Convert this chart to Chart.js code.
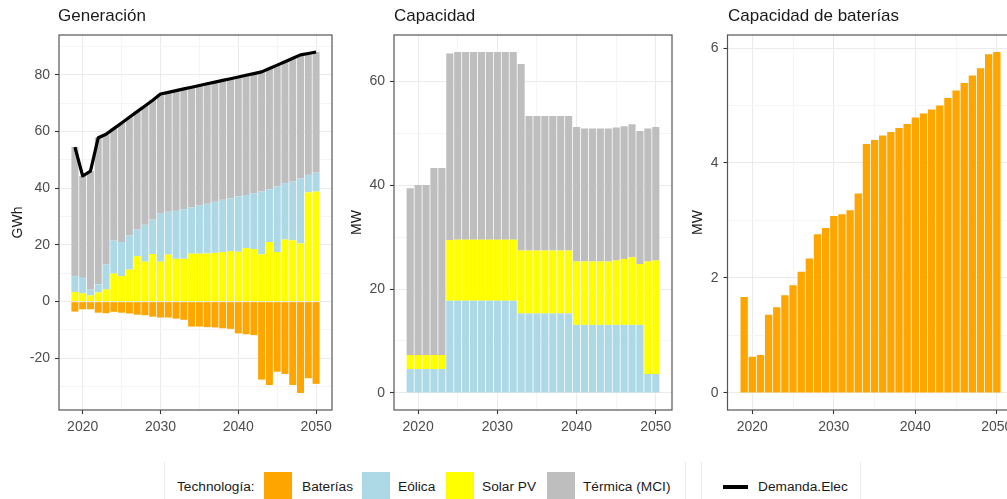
<!DOCTYPE html>
<html>
<head>
<meta charset="utf-8">
<script src="https://cdn.jsdelivr.net/npm/chart.js@4.4.1/dist/chart.umd.min.js"></script>
<style>
html,body{margin:0;padding:0;background:#fff;overflow:hidden;width:1007px;height:499px;}
#wrap{position:relative;width:1007px;height:499px;overflow:hidden;font-family:"Liberation Sans",Arial,sans-serif;color:#1a1a1a;}
.pc{position:absolute;top:0;width:340px;height:450px;}
.ttl{position:absolute;top:7px;font-size:17px;line-height:17px;white-space:nowrap;color:#1a1a1a;}
.lbox{position:absolute;top:462px;height:60px;border-left:1px solid #ebebeb;border-right:1px solid #ebebeb;}
.ltxt{position:absolute;top:477px;height:20px;line-height:20px;font-size:13.7px;white-space:nowrap;color:#1a1a1a;}
.key{position:absolute;top:472px;width:28px;height:28px;}
</style>
</head>
<body>
<div id="wrap">
  <div class="pc" style="left:0px"><canvas id="c1" width="340" height="450"></canvas></div>
  <div class="pc" style="left:340px"><canvas id="c2" width="340" height="450"></canvas></div>
  <div class="pc" style="left:680px"><canvas id="c3" width="340" height="450"></canvas></div>
  <div class="ttl" style="left:58px">Generación</div>
  <div class="ttl" style="left:394px">Capacidad</div>
  <div class="ttl" style="left:728px">Capacidad de baterías</div>

  <div class="lbox" style="left:164px;width:520px"></div>
  <div class="ltxt" style="left:177px">Technología:</div>
  <div class="key" style="left:264px;background:#FFA500"></div>
  <div class="ltxt" style="left:302px">Baterías</div>
  <div class="key" style="left:362px;background:#ADD8E6"></div>
  <div class="ltxt" style="left:398px">Eólica</div>
  <div class="key" style="left:446px;background:#FFFF00"></div>
  <div class="ltxt" style="left:482px">Solar PV</div>
  <div class="key" style="left:547px;background:#BEBEBE"></div>
  <div class="ltxt" style="left:583px">Térmica (MCI)</div>

  <div class="lbox" style="left:701px;width:158px"></div>
  <div style="position:absolute;left:723px;top:485px;width:25px;height:4px;background:#000"></div>
  <div class="ltxt" style="left:758px">Demanda.Elec</div>
</div>
<script>
// ---------- DATA ----------
const years = [2019,2020,2021,2022,2023,2024,2025,2026,2027,2028,2029,2030,2031,2032,2033,2034,
               2035,2036,2037,2038,2039,2040,2041,2042,2043,2044,2045,2046,2047,2048,2049,2050];

// Generación (GWh)
const genSolar   = [3.4,2.9,2.2,3.2,4.3,9.9,9.0,11.3,16.0,14.1,16.8,14.1,16.6,15.1,15.1,16.9,
                    16.9,17.0,17.2,17.5,17.8,17.6,18.9,18.5,16.7,21.0,17.5,21.9,21.6,20.5,38.5,38.8];
const genWind    = [5.6,5.5,2.1,2.9,8.8,11.6,12.0,12.0,9.4,13.0,12.1,16.9,15.1,16.9,17.5,16.3,
                    17.0,17.5,18.0,18.4,18.6,19.5,18.7,19.7,22.1,18.6,23.1,19.9,20.7,23.0,6.2,6.7];
const genThermal = [45.5,35.9,41.7,51.7,45.9,39.5,42.0,41.7,41.6,41.9,42.1,42.2,42.1,42.4,42.4,42.4,
                    42.3,42.3,42.2,42.1,42.2,42.1,42.2,42.2,42.2,42.6,42.8,42.8,43.5,43.5,42.8,42.5];
const genBatt    = [-3.5,-2.7,-2.7,-3.9,-4.1,-3.6,-3.9,-4.2,-4.6,-4.8,-5.3,-5.6,-5.6,-6.0,-6.4,-8.8,
                    -8.8,-9.0,-9.1,-9.4,-9.6,-11.2,-11.5,-11.8,-27.5,-29.4,-24.7,-25.5,-29.4,-32.2,-27.0,-29.0];
const demand     = [54.5,44.3,46.0,57.8,59.0,61.0,63.0,65.0,67.0,69.0,71.0,73.2,73.8,74.4,75.0,75.6,
                    76.2,76.8,77.4,78.0,78.6,79.2,79.8,80.4,81.0,82.2,83.4,84.6,85.8,87.0,87.5,88.0];

// Capacidad (MW)
const capWind    = [4.6,4.6,4.6,4.6,4.6,17.75,17.75,17.75,17.75,17.75,17.75,17.75,17.75,17.75,15.3,15.3,
                    15.3,15.3,15.3,15.3,15.3,13.1,13.1,13.1,13.1,13.1,13.1,13.1,13.1,13.1,3.65,3.65];
const capSolar   = [2.7,2.7,2.7,2.7,2.7,11.65,11.75,11.75,11.75,11.75,11.75,11.75,11.75,11.75,12.1,12.1,
                    12.1,12.1,12.1,12.1,12.1,12.2,12.2,12.2,12.2,12.2,12.4,12.7,13.0,11.7,21.65,21.85];
const capThermal = [32.1,32.7,32.7,36.0,36.0,35.9,36.1,36.1,36.1,36.1,36.1,36.1,36.1,36.1,35.9,25.9,
                    25.9,25.9,25.9,25.9,25.9,25.9,25.6,25.6,25.6,25.6,25.6,25.5,25.6,25.6,25.6,25.7];

// Capacidad de baterías (MW)
const battCap    = [1.67,0.63,0.66,1.36,1.49,1.70,1.875,2.11,2.34,2.76,2.87,3.08,3.11,3.18,3.47,4.33,
                    4.40,4.48,4.54,4.61,4.68,4.79,4.86,4.93,5.00,5.13,5.26,5.39,5.52,5.65,5.89,5.93];

// Ticks
const xMajor = [2020,2030,2040,2050];
const xMinor = [2025,2035,2045];
const genYMajor = [-20,0,20,40,60,80];
const genYMinor = [-30,-10,10,30,50,70,90];
const capYMajor = [0,20,40,60];
const capYMinor = [10,30,50];
const batYMajor = [0,2,4,6];
const batYMinor = [1,3,5];

// Colours
const COL = {batt:'#FFA500', wind:'#ADD8E6', solar:'#FFFF00', thermal:'#BEBEBE'};

// ---------- HELPERS ----------
const FONT = '"Liberation Sans", Arial, sans-serif';
const pts = arr => years.map((yr,i)=>({x:yr, y:arr[i]}));

const borderPlugin = {
  id:'panelBorder',
  afterDraw(chart){
    const a = chart.chartArea, ctx = chart.ctx;
    ctx.save();
    ctx.strokeStyle = '#555555';
    ctx.lineWidth = 1.2;
    ctx.strokeRect(a.left, a.top, a.right - a.left, a.bottom - a.top);
    ctx.restore();
  }
};

function bar(label, arr, color){
  return {type:'bar', label, data:pts(arr), backgroundColor:color, borderWidth:0,
          barPercentage:0.9, categoryPercentage:1.0, stack:'tech'};
}

function options(o){
  const xTicks = xMajor.concat(xMinor).sort((a,b)=>a-b);
  const yTicks = o.yMajor.concat(o.yMinor).sort((a,b)=>a-b);
  return {
    responsive:false, animation:false, devicePixelRatio:1,
    layout:{padding:{left:0, right:o.padRight, top:35, bottom:0}},
    plugins:{legend:{display:false}, tooltip:{enabled:false}, title:{display:false}},
    scales:{
      x:{
        type:'linear', min:2016.955, max:2052.045, offset:false, stacked:true,
        afterBuildTicks: s => { s.ticks = xTicks.map(v=>({value:v})); },
        afterFit: s => { s.height = 40; },
        ticks:{callback: v => xMajor.includes(v) ? String(v) : '',
               font:{family:FONT, size:14}, color:'#4d4d4d', padding:4.5,
               maxRotation:0, autoSkip:false},
        grid:{offset:false,
              color: c => (c.tick && xMajor.includes(c.tick.value)) ? '#ebebeb' : '#f5f5f5',
              lineWidth:1, tickLength:4,
              tickColor: c => (c.tick && xMajor.includes(c.tick.value)) ? '#333333' : 'rgba(0,0,0,0)',
              tickWidth:1.1},
        border:{display:false}
      },
      y:{
        type:'linear', min:o.yMin, max:o.yMax, stacked:true,
        afterBuildTicks: s => { s.ticks = yTicks.map(v=>({value:v})); },
        afterFit: s => { s.width = o.left; },
        ticks:{callback: v => o.yMajor.includes(v) ? String(v) : '',
               font:{family:FONT, size:14}, color:'#4d4d4d', padding:5, autoSkip:false},
        grid:{color: c => (c.tick && o.yMajor.includes(c.tick.value)) ? '#ebebeb' : '#f5f5f5',
              lineWidth:1, tickLength:4,
              tickColor: c => (c.tick && o.yMajor.includes(c.tick.value)) ? '#333333' : 'rgba(0,0,0,0)',
              tickWidth:1.1},
        border:{display:false},
        title:{display:true, text:o.yTitle, font:{family:FONT, size:14}, color:'#1a1a1a',
               padding:{top:o.titlePad, bottom:0}}
      }
    }
  };
}

// ---------- CHART 1: Generación ----------
new Chart(document.getElementById('c1'), {
  type:'bar',
  data:{datasets:[
    {type:'line', label:'Demanda.Elec', data:pts(demand), borderColor:'#000', borderWidth:3.2,
     pointRadius:0, fill:false, tension:0, order:-1, stack:'demand',
     borderJoinStyle:'round', borderCapStyle:'butt'},
    bar('Solar PV', genSolar, COL.solar),
    bar('Eólica', genWind, COL.wind),
    bar('Térmica (MCI)', genThermal, COL.thermal),
    bar('Baterías', genBatt, COL.batt)
  ]},
  options: options({padRight:8, left:59, yMin:-38.21, yMax:94.01, titlePad:10,
                    yMajor:genYMajor, yMinor:genYMinor, yTitle:'GWh'}),
  plugins:[borderPlugin]
});

// ---------- CHART 2: Capacidad ----------
new Chart(document.getElementById('c2'), {
  type:'bar',
  data:{datasets:[
    bar('Eólica', capWind, COL.wind),
    bar('Solar PV', capSolar, COL.solar),
    bar('Térmica (MCI)', capThermal, COL.thermal)
  ]},
  options: options({padRight:8, left:54, yMin:-3.28, yMax:68.88, titlePad:9,
                    yMajor:capYMajor, yMinor:capYMinor, yTitle:'MW'}),
  plugins:[borderPlugin]
});

// ---------- CHART 3: Capacidad de baterías ----------
new Chart(document.getElementById('c3'), {
  type:'bar',
  data:{datasets:[
    bar('Baterías', battCap, COL.batt)
  ]},
  options: options({padRight:6.5, left:47.5, yMin:-0.2965, yMax:6.2265, titlePad:9.5,
                    yMajor:batYMajor, yMinor:batYMinor, yTitle:'MW'}),
  plugins:[borderPlugin]
});
</script>
</body>
</html>
